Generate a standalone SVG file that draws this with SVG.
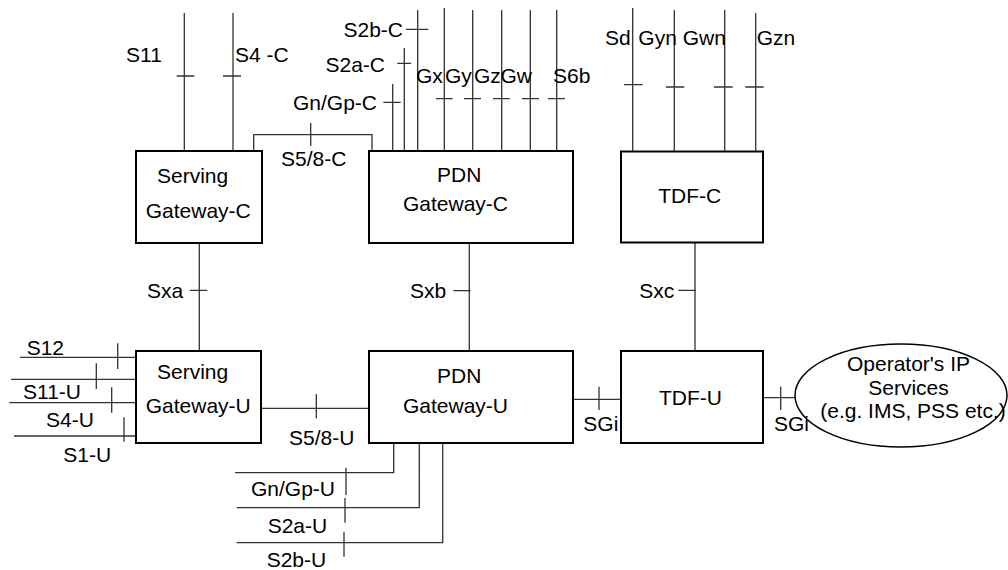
<svg xmlns="http://www.w3.org/2000/svg" width="1008" height="570" viewBox="0 0 1008 570">
<style>
text{font-family:"Liberation Sans",Arial,sans-serif;font-size:21px;fill:#000}
.box{fill:#fff;stroke:#000;stroke-width:2}
.c{fill:none;stroke:#333;stroke-width:1.3}
</style>
<rect width="1008" height="570" fill="#fff"/>
<g id="connectors">
<path class="c" d="M184.3,13V151M176.7,76H194.3M233,13V151M223,76H241"/>
<text x="126" y="62">S11</text>
<text x="235" y="62">S4 -C</text>
<path class="c" d="M253.7,151V134.7H372V151M310.7,123V146"/>
<text x="281" y="166">S5/8-C</text>
<path class="c" d="M392.7,84V151M383.3,102.3H400.7M404.3,48V151M397.3,63.3H411M417.7,10V151M406,29.3H428.3"/>
<text x="377" y="110" text-anchor="end">Gn/Gp-C</text>
<text x="385" y="71.5" text-anchor="end">S2a-C</text>
<text x="403" y="37" text-anchor="end">S2b-C</text>
<path class="c" d="M444.3,8V151M436,98.7H452.7M472.7,10V151M464,98.7H481M501.7,10V151M493,98.7H509.7M530.3,10V153M522,98.7H539M556.7,10V151M548,98.7H565"/>
<text x="416" y="82.5">Gx</text>
<text x="445" y="82.5">Gy</text>
<text x="474" y="82.5">Gz</text>
<text x="500.5" y="82.5">Gw</text>
<text x="553" y="82.5">S6b</text>
<path class="c" d="M632.7,8V151M624,84.7H642.7M674.3,10V151M666,87H684.3M724.7,10V153M714,87H732.7M755.7,13V151M745.3,87H763.7"/>
<text x="605" y="45">Sd</text>
<text x="638.3" y="45">Gyn</text>
<text x="682.7" y="45">Gwn</text>
<text x="756.7" y="45">Gzn</text>
<path class="c" d="M199.3,243V351M190,290.3H207.3"/>
<text x="147" y="298">Sxa</text>
<path class="c" d="M469.3,243V351M453.3,290.7H470.7"/>
<text x="410" y="298">Sxb</text>
<path class="c" d="M695,243V351M678.3,290.3H696"/>
<text x="639.3" y="298">Sxc</text>
<path class="c" d="M20,357.3H136M117.7,343.3V369M11,379.3H136M96.3,363.3V389M9.3,402.7H136M111.7,387.3V412.7M14,436H136M124,417.3V441.7"/>
<text x="26.7" y="355">S12</text>
<text x="23" y="399.3">S11-U</text>
<text x="46" y="427.3">S4-U</text>
<text x="63.3" y="461.7">S1-U</text>
<path class="c" d="M261,408.3H369M316.3,394V418.3"/>
<text x="289" y="445">S5/8-U</text>
<path class="c" d="M393.7,443V472.7H235M346,467.7V495M419.3,443V507.7H236.7M345,498V522.7M442.7,443V542.7H236.7M344,531.7V556.7"/>
<text x="251" y="496">Gn/Gp-U</text>
<text x="267.7" y="532.7">S2a-U</text>
<text x="266.7" y="566.7">S2b-U</text>
<path class="c" d="M573,399.3H621M599,386.7V410M756,397.7H795M780.7,386.7V410"/>
<text x="583.3" y="430.7">SGi</text>
<text x="774" y="430.7">SGi</text>
</g>
<g id="sgw-c">
<rect class="box" x="136" y="151" width="126" height="92"/>
<text x="157" y="182.5">Serving</text>
<text x="145.7" y="217.7">Gateway-C</text>
</g>
<g id="pgw-c">
<rect class="box" x="369" y="151" width="204" height="92"/>
<text x="437" y="182">PDN</text>
<text x="403" y="211">Gateway-C</text>
</g>
<g id="tdf-c">
<rect class="box" x="621" y="151.5" width="142" height="91"/>
<text x="658.3" y="202.7">TDF-C</text>
</g>
<g id="sgw-u">
<rect class="box" x="136" y="351" width="125" height="92"/>
<text x="157" y="379">Serving</text>
<text x="145.7" y="412.7">Gateway-U</text>
</g>
<g id="pgw-u">
<rect class="box" x="369" y="351" width="204" height="92"/>
<text x="437" y="382.5">PDN</text>
<text x="403" y="413">Gateway-U</text>
</g>
<g id="tdf-u">
<rect class="box" x="621" y="351" width="142" height="92"/>
<text x="659" y="405">TDF-U</text>
</g>
<g id="ops">
<ellipse cx="901" cy="395.5" rx="106" ry="51.5" fill="none" stroke="#000" stroke-width="1.5"/>
<text x="908.5" y="371" text-anchor="middle">Operator's IP</text>
<text x="908.5" y="395" text-anchor="middle">Services</text>
<text x="913" y="418.3" text-anchor="middle">(e.g. IMS, PSS etc.)</text>
</g>
</svg>
